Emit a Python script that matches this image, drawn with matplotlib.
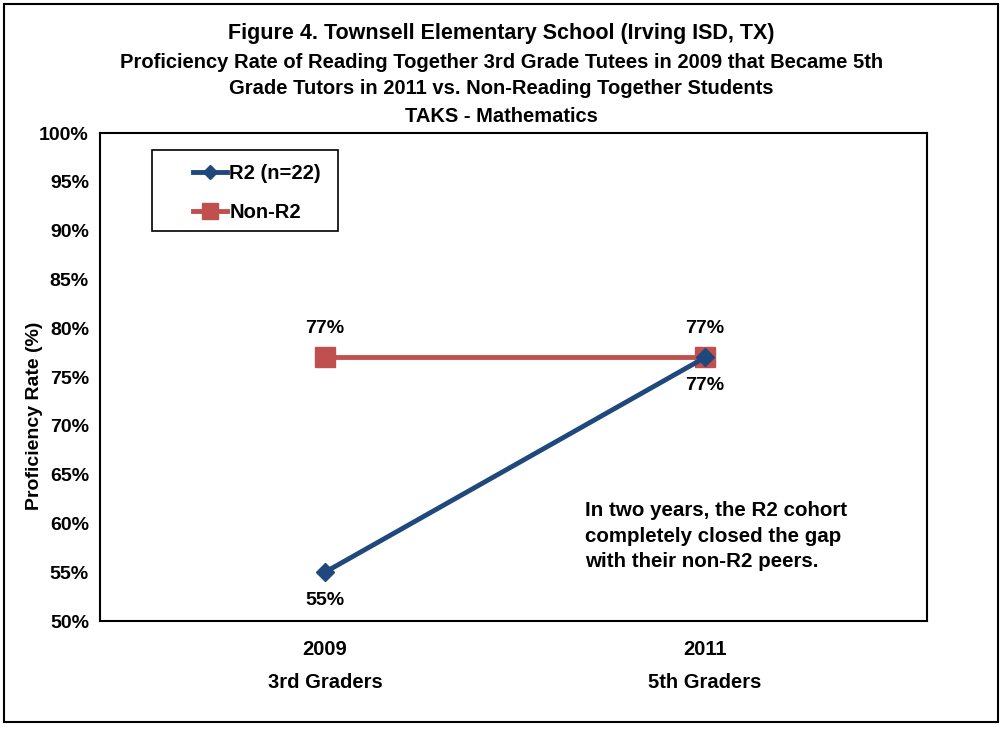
import matplotlib
matplotlib.use("Agg")
import matplotlib.pyplot as plt
from matplotlib.patches import Rectangle
from matplotlib.ticker import FuncFormatter

categories = ["2009\n3rd Graders", "2011\n5th Graders"]
r2_values = [55, 77]
non_r2_values = [77, 77]
r2_label = "R2 (n=22)"
non_r2_label = "Non-R2"
yticks = list(range(50, 101, 5))

plt.rcParams['font.family'] = ['Liberation Sans', 'DejaVu Sans']
plt.rcParams['font.weight'] = 'bold'

fig = plt.figure(figsize=(10.03, 7.29), dpi=100)
W, H = 1003, 729
ax = fig.add_axes([100 / W, 1 - 621 / H, 827 / W, 488 / H])

fig.patches.append(Rectangle((4 / W, 1 - 722 / H), 994 / W, 718 / H, transform=fig.transFigure,
                             fill=False, edgecolor='black', linewidth=1.5))

x = list(range(len(categories)))
ax.plot(x, r2_values, color='#1F497D', linewidth=3.5, marker='D', markersize=9, label=r2_label, zorder=3)
ax.plot(x, non_r2_values, color='#C0504D', linewidth=3.5, marker='s', markersize=14, label=non_r2_label, zorder=2)

ax.set_xlim(-0.592, 1.584)
ax.set_ylim(50, 100)
ax.set_yticks(yticks)
ax.yaxis.set_major_formatter(FuncFormatter(lambda v, p: f"{int(v)}%"))
ax.set_xticks(x)
ax.set_xticklabels(categories, fontsize=14.5, fontweight='bold')
for t in ax.get_xticklabels():
    t.set_linespacing(1.9)
ax.tick_params(axis='y', labelsize=14, length=0, pad=8)
ax.tick_params(axis='x', length=0, pad=14)
for s in ax.spines.values():
    s.set_linewidth(1.5)
    s.set_color('black')
ax.set_ylabel("Proficiency Rate (%)", fontsize=14, fontweight='bold')
ax.yaxis.set_label_coords(-0.069, 0.42)

# data labels
ax.annotate(f"{non_r2_values[0]}%", (x[0], non_r2_values[0]), xytext=(0, 15), textcoords='offset points',
            ha='center', va='bottom', fontsize=14, fontweight='bold')
ax.annotate(f"{non_r2_values[1]}%", (x[1], non_r2_values[1]), xytext=(0, 15), textcoords='offset points',
            ha='center', va='bottom', fontsize=14, fontweight='bold')
ax.annotate(f"{r2_values[1]}%", (x[1], r2_values[1]), xytext=(0, -14), textcoords='offset points',
            ha='center', va='top', fontsize=14, fontweight='bold')
ax.annotate(f"{r2_values[0]}%", (x[0], r2_values[0]), xytext=(0, -14), textcoords='offset points',
            ha='center', va='top', fontsize=14, fontweight='bold')

# legend frame (drawn separately to match the wide left padding)
ax.add_patch(Rectangle(((152 - 100) / 827, (621 - 231) / 488), 186 / 827, 81 / 488, transform=ax.transAxes,
                       fill=False, edgecolor='black', linewidth=1.2, zorder=4))
leg = ax.legend(loc='upper left', bbox_to_anchor=((193 - 100) / 827, (621 - 164) / 488), fontsize=14.5,
                frameon=False, handlelength=1.7, handletextpad=0.1, labelspacing=1.0, borderpad=0.0,
                borderaxespad=0.0, markerscale=0.8)
for t in leg.get_texts():
    t.set_fontweight('bold')

ax.text(585 / W, 1 - 536 / H, "In two years, the R2 cohort\ncompletely closed the gap\nwith their non-R2 peers.",
        transform=fig.transFigure, fontsize=14.8, fontweight='bold', ha='left', va='center', linespacing=1.45)

fig.text(0.5, 1 - 33 / H, "Figure 4. Townsell Elementary School (Irving ISD, TX)", ha='center', va='center',
         fontsize=15.5, fontweight='bold')
fig.text(0.5, 1 - 62 / H, "Proficiency Rate of Reading Together 3rd Grade Tutees in 2009 that Became 5th",
         ha='center', va='center', fontsize=14.5, fontweight='bold')
fig.text(0.5, 1 - 89 / H, "Grade Tutors in 2011 vs. Non-Reading Together Students",
         ha='center', va='center', fontsize=14.5, fontweight='bold')
fig.text(0.5, 1 - 116 / H, "TAKS - Mathematics", ha='center', va='center', fontsize=14.5, fontweight='bold')

fig.savefig("out.png", dpi=100)
